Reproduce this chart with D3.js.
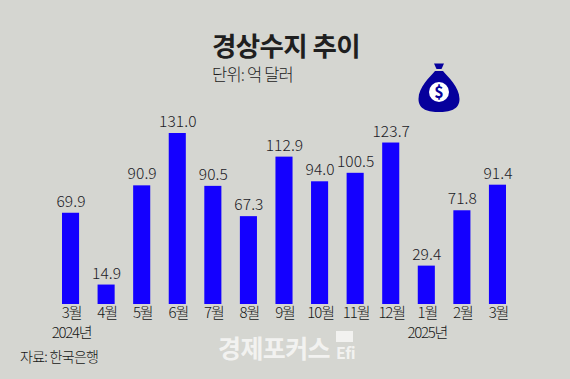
<!DOCTYPE html>
<meta charset="utf-8" />
<title>경상수지 추이</title>
<style>
  html, body { margin: 0; background: #d5d6d1; }
  svg { display: block; }
  text { font-family: "Noto Sans CJK KR", sans-serif; }
  .tick text { font-size: 15px; letter-spacing: -1.1px; fill: #161616; font-weight: 300; }
  .value { font-size: 15.5px; font-weight: 300; letter-spacing: 0.1px; fill: #1b1a26; text-anchor: middle; }
</style>
<body>
  <svg width="570" height="379"></svg>
  <script src="https://d3js.org/d3.v7.min.js"></script>
  <script>
    const months = ["3월", "4월", "5월", "6월", "7월", "8월", "9월", "10월", "11월", "12월", "1월", "2월", "3월"];
    const values = [69.9, 14.9, 90.9, 131.0, 90.5, 67.3, 112.9, 94.0, 100.5, 123.7, 29.4, 71.8, 91.4];
    const yearLabels = [{ index: 0, label: "2024년" }, { index: 10, label: "2025년" }];

    const width = 570, height = 379;
    const svg = d3.select("svg");
    const ids = months.map((d, i) => i);

    const x = d3.scaleBand().domain(ids).range([62, 506]).paddingInner(0.52).paddingOuter(0);
    const y = d3.scaleLinear().domain([0, 131]).range([304, 133]);

    // Bars
    svg.append("g")
      .selectAll("rect")
      .data(values)
      .join("rect")
      .attr("x", (d, i) => x(i))
      .attr("y", d => y(d))
      .attr("width", x.bandwidth())
      .attr("height", d => y(0) - y(d))
      .attr("fill", "#1400ff");

    // Value labels
    svg.append("g")
      .selectAll("text")
      .data(values)
      .join("text")
      .attr("class", "value")
      .attr("x", (d, i) => x(i) + x.bandwidth() / 2 + 0.5)
      .attr("y", d => y(d) - 6)
      .text(d => d.toFixed(1));

    // Month axis
    const axis = svg.append("g")
      .attr("transform", "translate(0,304)")
      .call(d3.axisBottom(x).tickSize(0).tickPadding(3).tickFormat(i => months[i]));
    axis.select(".domain").remove();
    axis.selectAll(".tick text").attr("dx", 1);

    // Years under the axis
    svg.append("g")
      .selectAll("text")
      .data(yearLabels)
      .join("text")
      .attr("x", d => x(d.index) + x.bandwidth() / 2 + 1)
      .attr("y", 338)
      .attr("text-anchor", "middle")
      .attr("font-size", 15)
      .attr("font-weight", 300)
      .attr("letter-spacing", -1.3)
      .attr("fill", "#161616")
      .text(d => d.label);

    // Title block
    svg.append("text").attr("x", 212).attr("y", 56)
      .attr("font-size", 26.5).attr("font-weight", 700).attr("letter-spacing", -0.6)
      .attr("fill", "#1f1f1f").text("경상수지 추이");
    svg.append("text").attr("x", 212).attr("y", 81)
      .attr("font-size", 16.5).attr("font-weight", 300).attr("letter-spacing", -0.8)
      .attr("fill", "#1c1c1c").text("단위: 억 달러");

    // Source
    svg.append("text").attr("x", 20).attr("y", 362)
      .attr("font-size", 14).attr("font-weight", 300).attr("letter-spacing", -0.7)
      .attr("fill", "#161616").text("자료: 한국은행");

    // Watermark
    svg.append("text").attr("x", 218).attr("y", 358)
      .attr("font-size", 25).attr("font-weight", 700).attr("letter-spacing", -0.6)
      .attr("fill", "#f2f2f0").text("경제포커스");
    svg.append("rect").attr("x", 336).attr("y", 331).attr("width", 17).attr("height", 11).attr("fill", "#f2f2f0");
    svg.append("text").attr("x", 336).attr("y", 359)
      .attr("font-size", 16).attr("font-weight", 700).attr("letter-spacing", -0.5)
      .attr("fill", "#f2f2f0").text("Efi");

    // Money bag icon
    const bag = svg.append("g").attr("transform", "translate(439,0)");
    bag.append("path").attr("fill", "#06009c")
      .attr("d", "M-5,63.5 L5,63.5 L2.5,69 L-2.5,69 Z");
    bag.append("path").attr("fill", "#06009c")
      .attr("d", "M-4,71 L4,71 C9,77 20.5,87 20.5,99 C20.5,110 10,112 0,112 C-10,112 -20.5,110 -20.5,99 C-20.5,87 -9,77 -4,71 Z");
    bag.append("circle").attr("cx", 0).attr("cy", 92).attr("r", 10).attr("fill", "#fff");
    bag.append("text").attr("x", 0).attr("y", 98).attr("text-anchor", "middle")
      .attr("font-size", 16).attr("font-weight", 700).attr("fill", "#06009c").text("$");
  </script>
</body>
